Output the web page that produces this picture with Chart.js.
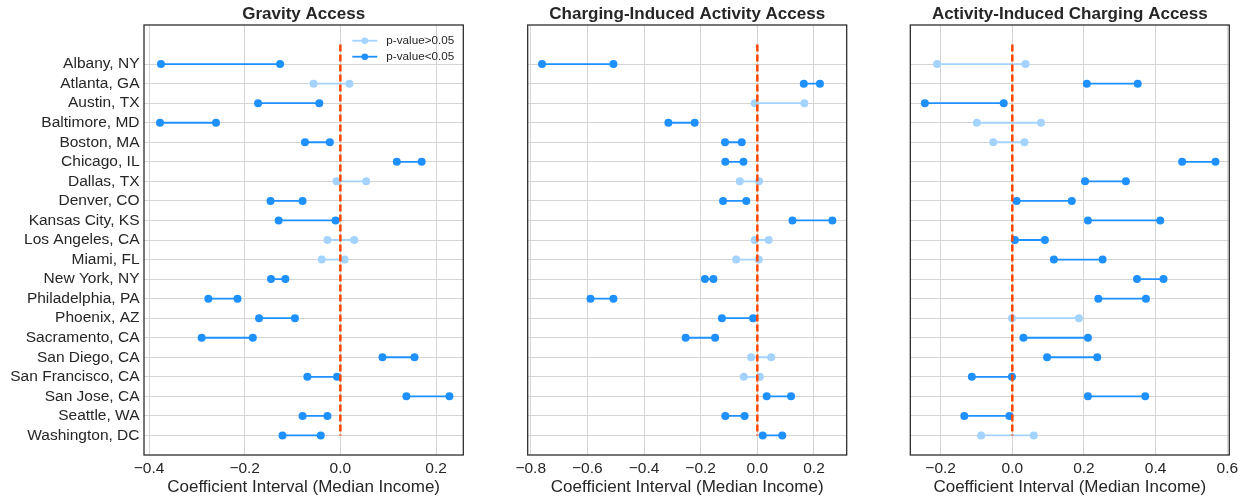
<!DOCTYPE html>
<html>
<head>
<meta charset="utf-8">
<script src="https://cdn.jsdelivr.net/npm/chart.js@4.4.0/dist/chart.umd.min.js"></script>
<style>
  body { margin: 0; background: #fff; }
  #wrap { position: relative; width: 1252px; height: 498px; }
  canvas { position: absolute; left: 0; top: 0; }
</style>
</head>
<body>
<div id="wrap">
  <canvas id="c1" width="1252" height="498"></canvas>
  <canvas id="c2" width="1252" height="498"></canvas>
  <canvas id="c3" width="1252" height="498"></canvas>
</div>
<script>
// cities, top to bottom
const cities = ['Albany, NY', 'Atlanta, GA', 'Austin, TX', 'Baltimore, MD', 'Boston, MA', 'Chicago, IL',
  'Dallas, TX', 'Denver, CO', 'Kansas City, KS', 'Los Angeles, CA', 'Miami, FL', 'New York, NY',
  'Philadelphia, PA', 'Phoenix, AZ', 'Sacramento, CA', 'San Diego, CA', 'San Francisco, CA',
  'San Jose, CA', 'Seattle, WA', 'Washington, DC'];

// Gravity Access
const gravityLow  = [-0.375, -0.056, -0.172, -0.377, -0.074, 0.118, -0.008, -0.146, -0.129, -0.027,
  -0.039, -0.145, -0.276, -0.170, -0.290, 0.088, -0.069, 0.138, -0.079, -0.121];
const gravityHigh = [-0.126, 0.019, -0.044, -0.260, -0.022, 0.170, 0.054, -0.079, -0.010, 0.029,
  0.009, -0.115, -0.215, -0.095, -0.183, 0.155, -0.007, 0.228, -0.027, -0.041];
const gravitySig  = [1, 0, 1, 1, 1, 1, 0, 1, 1, 0, 0, 1, 1, 1, 1, 1, 1, 1, 1, 1];

// Charging-Induced Activity Access
const chargingLow  = [-0.760, 0.164, -0.009, -0.314, -0.114, -0.113, -0.062, -0.121, 0.124, -0.009,
  -0.075, -0.185, -0.589, -0.125, -0.253, -0.022, -0.048, 0.033, -0.113, 0.019];
const chargingHigh = [-0.508, 0.221, 0.166, -0.221, -0.055, -0.049, 0.006, -0.039, 0.265, 0.040,
  0.005, -0.155, -0.508, -0.015, -0.149, 0.049, 0.009, 0.119, -0.045, 0.088];
const chargingSig  = [1, 1, 0, 1, 1, 1, 0, 1, 1, 0, 0, 1, 1, 1, 1, 0, 0, 1, 1, 1];

// Activity-Induced Charging Access
const activityLow  = [-0.210, 0.208, -0.244, -0.099, -0.053, 0.474, 0.203, 0.012, 0.211, 0.007,
  0.116, 0.348, 0.240, -0.001, 0.031, 0.097, -0.113, 0.211, -0.134, -0.087];
const activityHigh = [0.037, 0.350, -0.024, 0.080, 0.034, 0.567, 0.317, 0.166, 0.413, 0.091,
  0.252, 0.422, 0.373, 0.186, 0.211, 0.237, -0.001, 0.371, -0.008, 0.060];
const activitySig  = [0, 1, 1, 0, 0, 1, 1, 1, 1, 1, 1, 1, 1, 0, 1, 1, 1, 1, 1, 0];

const gravityTicks = [-0.4, -0.2, 0.0, 0.2];
const chargingTicks = [-0.8, -0.6, -0.4, -0.2, 0.0, 0.2];
const activityTicks = [-0.2, 0.0, 0.2, 0.4, 0.6];

const DARK = '#1E90FF';
const LIGHT = 'rgb(165, 211, 255)';
const TEXT = '#262626';
const GRID = '#d4d4d4';
const FONT = 'Liberation Sans, Arial, sans-serif';

function fmt(v) { return v.toFixed(1).replace('-', '\u2212'); }

const framePlugin = {
  id: 'frame',
  afterDraw(chart) {
    const { ctx, chartArea: a } = chart;
    ctx.save();
    ctx.strokeStyle = TEXT;
    ctx.lineWidth = 1.25;
    ctx.strokeRect(a.left, a.top, a.right - a.left, a.bottom - a.top);
    ctx.restore();
  }
};

const legendPlugin = {
  id: 'pLegend',
  afterDraw(chart) {
    if (!chart.options.plugins.pLegend.show) return;
    const { ctx, chartArea: a } = chart;
    const rows = [['p-value>0.05', LIGHT], ['p-value<0.05', DARK]];
    ctx.save();
    rows.forEach(([label, col], i) => {
      const y = a.top + 15.7 + i * 16;
      const x0 = a.right - 111;
      ctx.strokeStyle = col;
      ctx.lineWidth = 1.8;
      ctx.beginPath(); ctx.moveTo(x0, y); ctx.lineTo(x0 + 25, y); ctx.stroke();
      ctx.fillStyle = col;
      ctx.beginPath(); ctx.arc(x0 + 12.5, y, 3.3, 0, Math.PI * 2); ctx.fill();
      ctx.fillStyle = TEXT;
      ctx.font = '11.7px ' + FONT;
      ctx.textBaseline = 'middle';
      ctx.fillText(label, x0 + 34, y);
    });
    ctx.restore();
  }
};

function makePanel(id, title, lo, hi, sig, xMin, xMax, xTicks, padLeft, padRight, showY, showLegend) {
  const datasets = [{
    data: [{ x: 0, y: -1 }, { x: 0, y: 19 }],
    borderColor: '#FF4500', borderWidth: 2.5, borderDash: [7, 3], pointRadius: 0
  }];
  cities.forEach((c, i) => {
    const col = sig[i] ? DARK : LIGHT;
    datasets.push({
      label: c,
      data: [{ x: lo[i], y: i }, { x: hi[i], y: i }],
      borderColor: col, backgroundColor: col, pointBackgroundColor: col,
      borderWidth: 1.8, pointRadius: 4, pointBorderWidth: 0
    });
  });

  new Chart(document.getElementById(id), {
    type: 'line',
    data: { datasets },
    options: {
      responsive: false,
      animation: false,
      events: [],
      layout: { padding: { left: padLeft, right: padRight, top: 0, bottom: 0 } },
      plugins: {
        legend: { display: false },
        tooltip: { enabled: false },
        title: {
          display: true, text: title, fullSize: false, color: TEXT,
          font: { family: FONT, size: 17, weight: 'bold' },
          padding: { top: 4, bottom: 0.6 }
        },
        pLegend: { show: showLegend }
      },
      scales: {
        x: {
          type: 'linear', min: xMin, max: xMax,
          afterBuildTicks: s => { s.ticks = xTicks.map(v => ({ value: v })); },
          afterFit: s => { s.height = 43; },
          ticks: { autoSkip: false, padding: 4.5, color: TEXT, font: { family: FONT, size: 15.5 }, callback: v => fmt(v) },
          grid: { color: GRID, lineWidth: 1, drawTicks: false },
          border: { display: false },
          title: {
            display: true, text: 'Coefficient Interval (Median Income)', color: TEXT,
            font: { family: FONT, size: 17 }, padding: { top: 0, bottom: 0.8 }
          }
        },
        y: {
          type: 'linear', reverse: true, min: -2, max: 20,
          afterBuildTicks: s => { s.ticks = cities.map((c, i) => ({ value: i })); },
          afterFit: s => { s.width = showY ? 144 : 0; },
          ticks: { display: showY, autoSkip: false, padding: 4.5, color: TEXT,
            font: { family: FONT, size: 15.5 }, callback: v => cities[v] },
          grid: { color: GRID, lineWidth: 1, drawTicks: false },
          border: { display: false }
        }
      }
    },
    plugins: [framePlugin, legendPlugin]
  });
}

makePanel('c1', 'Gravity Access', gravityLow, gravityHigh, gravitySig, -0.4105, 0.257, gravityTicks, 0, 788.7, true, true);
makePanel('c2', 'Charging-Induced Activity Access', chargingLow, chargingHigh, chargingSig, -0.8106, 0.3155, chargingTicks, 527.7, 405.3, false, false);
makePanel('c3', 'Activity-Induced Charging Access', activityLow, activityHigh, activitySig, -0.2847, 0.6056, activityTicks, 910.3, 22.7, false, false);
</script>
</body>
</html>
